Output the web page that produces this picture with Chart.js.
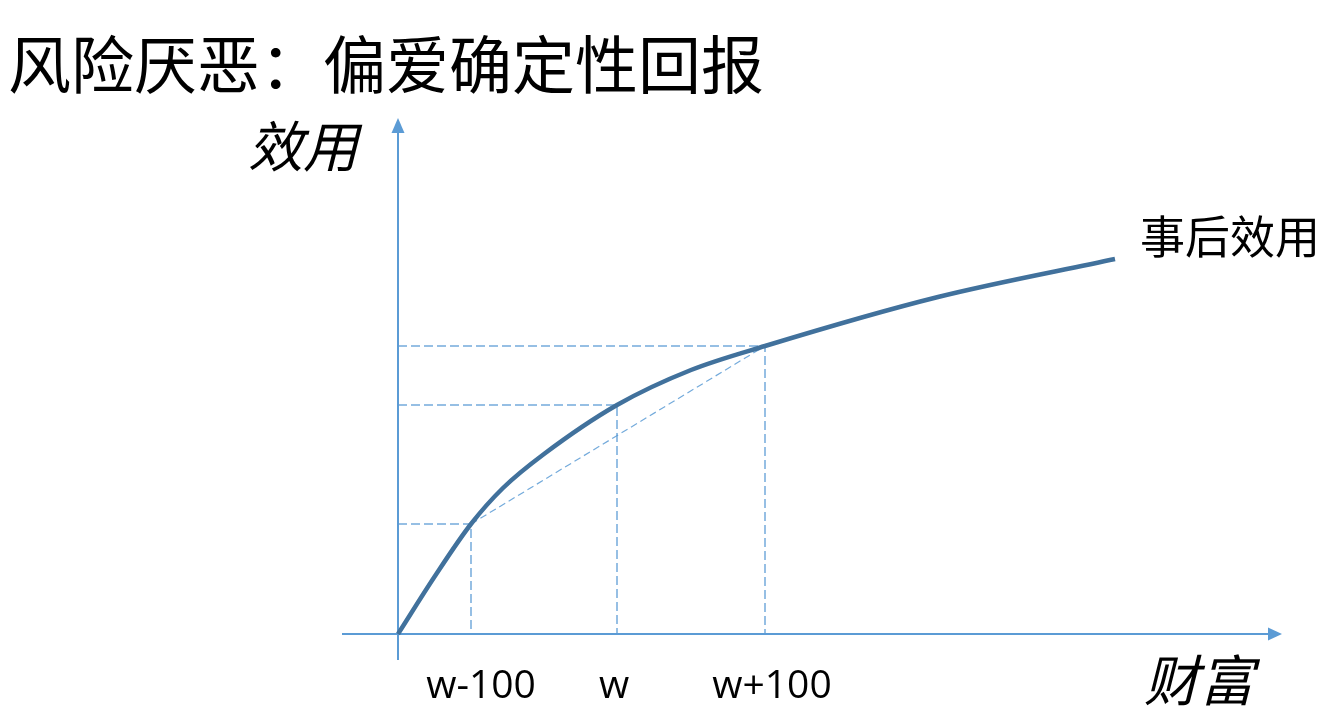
<!DOCTYPE html>
<html>
<head>
<meta charset="utf-8">
<script src="https://cdn.jsdelivr.net/npm/chart.js@4.4.1/dist/chart.umd.min.js"></script>
<style>
    html, body { margin: 0; padding: 0; background: #fff; }
    #wrap { width: 1341px; height: 728px; position: relative; }
</style>
</head>
<body>
<div id="wrap"><canvas id="chart" width="1341" height="728"></canvas></div>
<script>
'use strict';

/* global Chart */

// utility curve
const wealth  = [0, 37, 73, 105, 146, 219, 293, 367, 540, 717];
const utility = [0, 58, 110, 146, 180, 229, 264, 288, 337, 375];

// the three wealth levels and their utilities
const tickValues = [73, 219, 367];
const tickLabels = ['w-100', 'w', 'w+100'];
const tickUtility = [110, 229, 288];

const titleText = '风险厌恶：偏爱确定性回报';
const yName = '效用';
const xName = '财富';
const curveName = '事后效用';

const axisColor = '#5b9bd5';
const guideColor = 'rgba(91, 155, 213, 0.85)';
const curveColor = '#41719c';
const cjk = '"Noto Sans CJK SC", "Noto Sans", sans-serif';

let datasets = [];
datasets.push({
    label: curveName,
    data: wealth.map((x, i) => ({ x: x, y: utility[i] })),
    borderColor: curveColor,
    borderWidth: 4.5,
    pointRadius: 0,
    cubicInterpolationMode: 'monotone',
    fill: false
});
for (let i = 0; i < tickValues.length; ++i) {
    datasets.push({
        label: 'guide' + i,
        data: [{ x: 0, y: tickUtility[i] }, { x: tickValues[i], y: tickUtility[i] }, { x: tickValues[i], y: 0 }],
        borderColor: guideColor,
        borderWidth: 1.5,
        borderDash: [9, 4],
        pointRadius: 0,
        tension: 0,
        fill: false
    });
}
// chord between w-100 and w+100
datasets.push({
    label: 'chord',
    data: [{ x: tickValues[0], y: tickUtility[0] }, { x: tickValues[2], y: tickUtility[2] }],
    borderColor: guideColor,
    borderWidth: 1.2,
    borderDash: [7, 4],
    pointRadius: 0,
    tension: 0,
    fill: false
});

const decor = {
    id: 'decor',
    beforeDatasetsDraw(chart) {
        const ctx = chart.ctx;
        const xs = chart.scales.x, ys = chart.scales.y;
        const x0 = xs.getPixelForValue(0), y0 = ys.getPixelForValue(0);
        const xl = xs.getPixelForValue(xs.min), xr = xs.getPixelForValue(xs.max);
        const yb = ys.getPixelForValue(ys.min), yt = ys.getPixelForValue(ys.max);
        ctx.save();
        ctx.strokeStyle = axisColor;
        ctx.fillStyle = axisColor;
        ctx.lineWidth = 2;
        ctx.beginPath();
        ctx.moveTo(xl, y0);
        ctx.lineTo(xr - 12, y0);
        ctx.moveTo(x0, yb);
        ctx.lineTo(x0, yt + 12);
        ctx.stroke();
        // arrow heads
        ctx.beginPath();
        ctx.moveTo(xr, y0);
        ctx.lineTo(xr - 14, y0 - 6.5);
        ctx.lineTo(xr - 14, y0 + 6.5);
        ctx.closePath();
        ctx.fill();
        ctx.beginPath();
        ctx.moveTo(x0, yt);
        ctx.lineTo(x0 - 6.5, yt + 15);
        ctx.lineTo(x0 + 6.5, yt + 15);
        ctx.closePath();
        ctx.fill();
        ctx.restore();
    },
    afterDraw(chart) {
        const ctx = chart.ctx;
        const xs = chart.scales.x, ys = chart.scales.y;
        ctx.save();
        ctx.fillStyle = '#000';
        ctx.textBaseline = 'alphabetic';

        ctx.textAlign = 'left';
        ctx.font = '63px ' + cjk;
        ctx.fillText(titleText, 8, 88);

        ctx.font = 'italic 55px ' + cjk;
        ctx.fillText(yName, 248, 167);
        ctx.fillText(xName, 1144, 701);

        ctx.font = '45px ' + cjk;
        const last = wealth.length - 1;
        ctx.fillText(curveName, xs.getPixelForValue(wealth[last]) + 25, ys.getPixelForValue(utility[last]) - 5);

        ctx.textAlign = 'center';
        ctx.font = '39px "Open Sans", "Liberation Sans", sans-serif';
        const offs = [10, -3, 7];
        for (let i = 0; i < tickValues.length; ++i)
            ctx.fillText(tickLabels[i], xs.getPixelForValue(tickValues[i]) + offs[i], 698);
        ctx.restore();
    }
};

new Chart(document.getElementById('chart'), {
    type: 'line',
    data: { datasets: datasets },
    options: {
        responsive: false,
        animation: false,
        layout: { padding: { left: 342, right: 59, top: 118, bottom: 68 } },
        plugins: { legend: { display: false }, title: { display: false }, tooltip: { enabled: false } },
        scales: {
            x: { type: 'linear', min: -56, max: 884, display: false },
            y: { type: 'linear', min: -26, max: 516, display: false }
        }
    },
    plugins: [decor]
});
</script>
</body>
</html>
